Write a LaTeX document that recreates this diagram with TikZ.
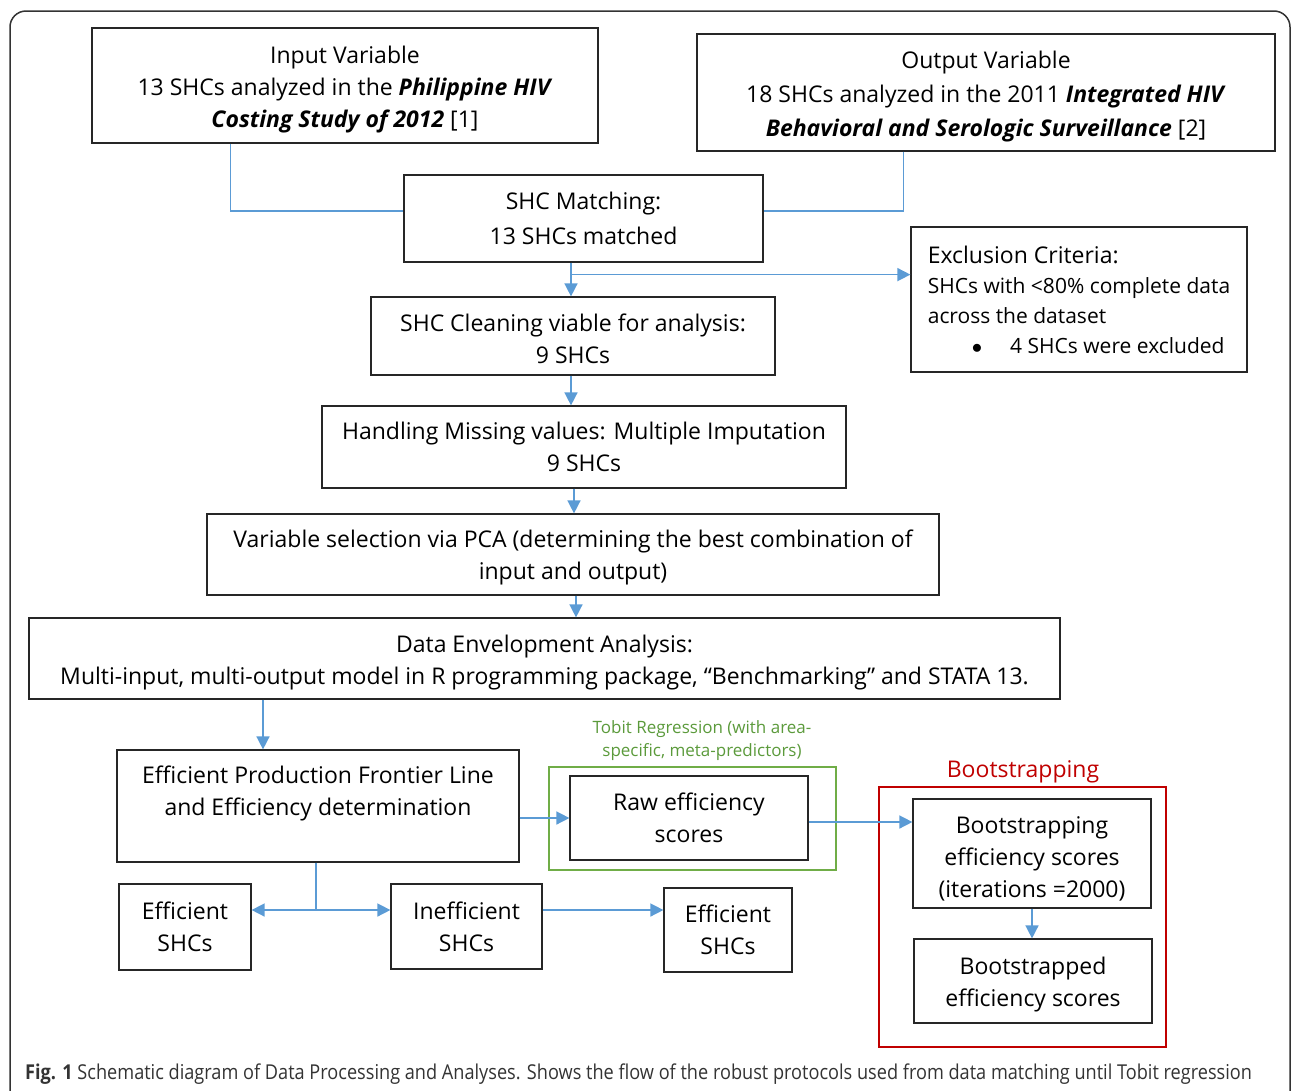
\documentclass[tikz,border=0pt]{standalone}
\usepackage{fontspec}
\setmainfont{Open Sans}
\newfontfamily\capfont[FakeStretch=0.885]{Open Sans}
\usetikzlibrary{arrows.meta}

\definecolor{linkblue}{HTML}{5B9BD5}
\definecolor{tobitgreen}{HTML}{70AD47}
\definecolor{tobittext}{HTML}{5B9A3B}
\definecolor{bootred}{HTML}{C00000}

\begin{document}
\begin{tikzpicture}[x=1pt,y=-1pt,
    font=\fontsize{23}{32}\selectfont,
    box/.style={draw=black!85, line width=1.2pt, align=center, inner sep=0pt},
    link/.style={draw=linkblue, line width=1.5pt},
    flow/.style={link, -{Triangle[length=13pt,width=13pt]}},
    group/.style={draw, line width=2.4pt, inner sep=0pt}]
    \clip (0,0) rectangle (1292,1090);
    \useasboundingbox (0,0) rectangle (1292,1090);
    \draw[black!80, line width=1.5pt, rounded corners=16pt] (10,11) rectangle (1290,1120);

    % sources
    \node[box, minimum width=506, minimum height=115] (input) at (345,85.5)
        {\rule{0pt}{25pt}Input Variable\\13 SHCs analyzed in the \textbf{\textit{Philippine HIV}}\\\textbf{\textit{Costing Study of 2012}} [1]};
    \node[box, minimum width=578, minimum height=117, font=\fontsize{23}{34}\selectfont] (output) at (986,92.5)
        {\rule{0pt}{25pt}Output Variable\\18 SHCs analyzed in the 2011 \textbf{\textit{Integrated HIV}}\\\textbf{\textit{Behavioral and Serologic Surveillance}} [2]};

    % main chain
    \node[box, minimum width=359, minimum height=87, font=\fontsize{23}{35}\selectfont] (matching) at (583.5,218.5) {SHC Matching:\\13 SHCs matched};
    \node[box, minimum width=336, minimum height=145, align=left, font=\fontsize{21}{30}\selectfont] (exclusion) at (1079,299.5)
        {{\fontsize{23}{30}\selectfont Exclusion Criteria:}\\SHCs with <80\% complete data\\across the dataset\\\hspace*{44pt}$\bullet$\hspace{28pt}4 SHCs were excluded};
    \node[box, minimum width=404, minimum height=78] (cleaning) at (573,336) {\rule{0pt}{23.5pt}SHC Cleaning viable for analysis:\\9 SHCs};
    \node[box, minimum width=524, minimum height=82] (missing) at (584,447) {Handling Missing values: Multiple Imputation\\9 SHCs};
    \node[box, minimum width=732, minimum height=81] (pca) at (573,554.5)
        {\rule{0pt}{23.5pt}Variable selection via PCA (determining the best combination of\\input and output)};
    \node[box, minimum width=1031, minimum height=81] (dea) at (544.5,658.5)
        {\rule{0pt}{25.5pt}Data Envelopment Analysis:\\Multi-input, multi-output model in R programming package, “Benchmarking” and STATA 13.};

    % efficiency
    \node[box, minimum width=402, minimum height=112] (frontier) at (318,806)
        {Efficient Production Frontier Line\\and Efficiency determination\\[-2pt]\mbox{}};
    \node[box, minimum width=132, minimum height=86] (effleft) at (185,927) {Efficient\\SHCs};
    \node[box, minimum width=151, minimum height=85] (inefficient) at (466.5,926.5) {Inefficient\\SHCs};
    \node[box, minimum width=128, minimum height=84] (effright) at (728,930) {Efficient\\SHCs};

    % tobit
    \node[group, draw=tobitgreen, minimum width=287, minimum height=103] (tobit) at (692.5,818.5) {};
    \node[text=tobittext, align=center, font=\fontsize{17}{23}\selectfont] (tobitlabel) at (702,740.5)
        {Tobit Regression (with area-\\specific, meta-predictors)};
    \node[box, minimum width=238, minimum height=84] (raw) at (689,818) {Raw efficiency\\scores};

    % bootstrapping
    \node[group, draw=bootred, minimum width=287, minimum height=260] (bootgroup) at (1022.5,917) {};
    \node[text=bootred] (bootlabel) at (1023,772) {Bootstrapping};
    \node[box, minimum width=238, minimum height=109] (boot) at (1032,853.5)
        {\rule{0pt}{27.5pt}Bootstrapping\\efficiency scores\\(iterations =2000)};
    \node[box, minimum width=238, minimum height=84] (booted) at (1033,981)
        {\rule{0pt}{23.5pt}Bootstrapped\\efficiency scores};

    % connectors
    \draw[link] ([xshift=139]input.south west) |- ([yshift=7.5]matching.west);
    \draw[link] ([xshift=207]output.south west) |- ([yshift=7.5]matching.east);
    \draw[flow] ([xshift=-12.5]matching.south) -- ([xshift=-12.5]matching.south |- cleaning.north);
    \coordinate (split) at ([xshift=-12.5,yshift=-12]matching.south);
    \draw[flow] (split) -- (split -| exclusion.west);
    \draw[flow] ([xshift=-2]cleaning.south) -- ([xshift=-2]cleaning.south |- missing.north);
    \draw[flow] ([xshift=-10]missing.south) -- ([xshift=-10]missing.south |- pca.north);
    \draw[flow] ([xshift=3]pca.south) -- ([xshift=3]pca.south |- dea.north);
    \draw[flow] ([xshift=-55]frontier.north |- dea.south) -- ([xshift=-55]frontier.north);
    \draw[flow] (frontier.east |- raw.west) -- (raw.west);
    \draw[flow] ([yshift=-4]raw.east) -- ([yshift=-4]raw.east -| boot.west);
    \draw[flow] (boot.south) -- (boot.south |- booted.north);
    \coordinate (forkrow) at ([yshift=16.5]inefficient.west);
    \coordinate (fork) at ([xshift=-2]frontier.south |- forkrow);
    \draw[link] (fork |- frontier.south) -- (fork);
    \draw[flow] (fork) -- (fork -| effleft.east);
    \draw[flow] (fork) -- (fork -| inefficient.west);
    \draw[flow] (fork -| inefficient.east) -- (fork -| effright.west);

    % caption
    \node[anchor=west, inner sep=0pt, text=black!80, font=\capfont\fontsize{20.5}{24}\selectfont] (caption) at (25,1074)
        {\textbf{Fig. 1} Schematic diagram of Data Processing and Analyses. Shows the flow of the robust protocols used from data matching until Tobit regression};
\end{tikzpicture}
\end{document}
